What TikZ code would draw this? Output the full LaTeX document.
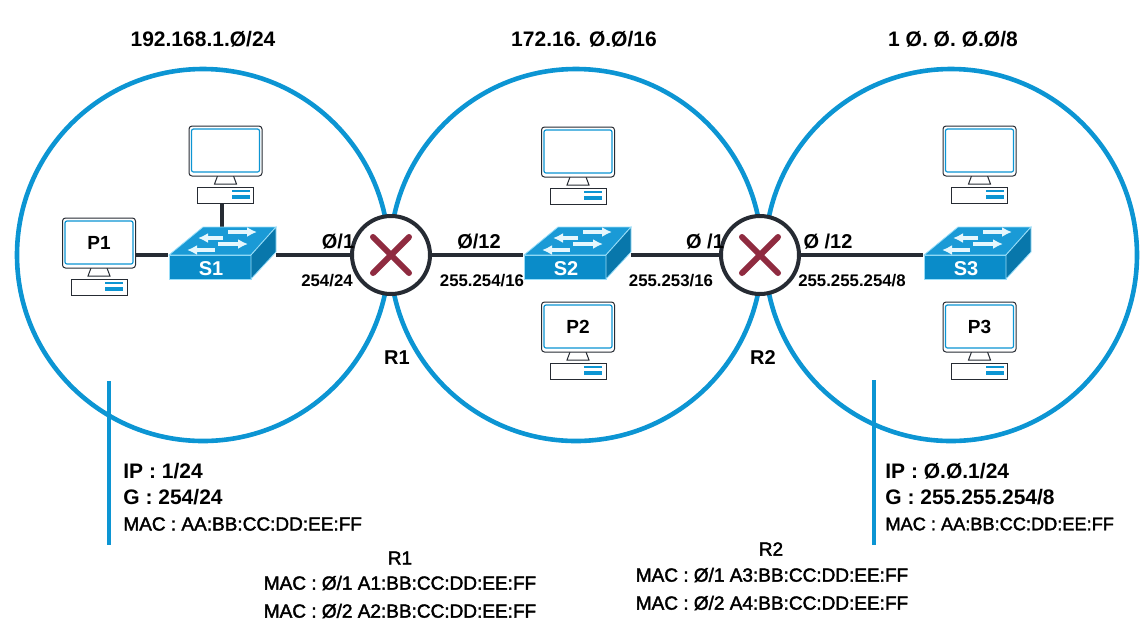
\documentclass[tikz,border=0pt]{standalone}
\usepackage{fontspec}
\setmainfont{Liberation Sans}
\newfontfamily\macfont[FakeBold=2]{Liberation Sans}
\usetikzlibrary{calc, shapes, backgrounds, arrows.meta}
\definecolor{lanblue}{HTML}{0C95D3}
\definecolor{switchblue}{HTML}{0A8CC9}
\definecolor{switchtop}{HTML}{1A9AD6}
\definecolor{routerred}{HTML}{8F2B40}
\definecolor{darkline}{HTML}{262B33}

\newcommand{\computer}[4]{
	\begin{scope}[shift={(#2,#3)}]
		\draw[pcline, fill=white] (-8,25) -- (-11,33) -- (11,33) -- (8,25);
		\node[monitor] (#1) at (0,0) {#4};
		\draw[lanblue, line width=0.6pt, rounded corners=1pt] (-34,-22) rectangle (34,21);
		\node[pcbox] (#1box) at (0,44) {};
		\fill[lanblue] (6,39) rectangle (24,41);
		\fill[lanblue] (6,43.5) rectangle (24,47.5);
	\end{scope}
}
\newcommand{\switchbox}[3]{
	\begin{scope}[shift={(#2,255)}]
		\fill[switchblue, draw=cyan!40, thin] (-53,0) -- (29,0) -- (29,24) -- (-53,24) -- cycle;
		\fill[switchtop, draw=cyan!40, thin] (-53,0) -- (-19,-28) -- (54,-28) -- (29,0) -- cycle;
		\fill[switchblue!85!black, draw=cyan!40, thin] (29,0) -- (54,-28) -- (54,-3) -- (29,24) -- cycle;
		\foreach \xa/\ya/\xb in {1/-17/-24, 6/-23/35, -4/-11/26, -7/-5/-35}
			\draw[white!90!cyan, line width=1.7pt, -{Latex[length=5pt,width=5pt]}] (\xa,\ya) -- (\xb,\ya);
		\node[switchbox] (#1) at (0,0) {};
		\node[switchtext] (#1text) at (-11,14) {#3};
	\end{scope}
}

\begin{document}
\begin{tikzpicture}[x=0.5pt, y=-0.5pt]
	\tikzstyle{lan}=[circle, draw=lanblue, line width=2.3pt, minimum size=186pt]
	\tikzstyle{router}=[circle, draw=darkline, fill=white, line width=2pt, minimum size=39pt]
	\tikzstyle{link}=[darkline, line width=1.8pt]
	\tikzstyle{cross}=[routerred, line width=3pt, line cap=round]
	\tikzstyle{pcline}=[darkline, line width=0.5pt]
	\tikzstyle{monitor}=[rectangle, draw=darkline, line width=0.5pt, fill=white, rounded corners=1.5pt,
	minimum width=36.5pt, minimum height=25pt, inner sep=0pt,
	font=\fontsize{9.5}{11}\selectfont\bfseries]
	\tikzstyle{pcbox}=[rectangle, draw=darkline, line width=0.5pt, fill=white, minimum width=28pt, minimum height=8pt, inner sep=0pt]
	\tikzstyle{switchbox}=[rectangle, minimum width=53.5pt, minimum height=24pt, inner sep=0pt]
	\tikzstyle{switchtext}=[white, inner sep=0pt, font=\fontsize{10}{12}\selectfont\bfseries]
	\tikzstyle{nettext}=[inner sep=0pt, font=\fontsize{10.5}{12}\selectfont\bfseries]
	\tikzstyle{porttext}=[inner sep=0pt, font=\fontsize{10}{12}\selectfont\bfseries]
	\tikzstyle{masktext}=[inner sep=0pt, font=\fontsize{8.4}{10}\selectfont\bfseries]
	\tikzstyle{hosttext}=[inner sep=0pt, anchor=west, font=\fontsize{10.5}{12}\selectfont\bfseries]
	\tikzstyle{mactext}=[inner sep=0pt, font=\fontsize{9.5}{12}\macfont]
	\tikzstyle{bar}=[lanblue, line width=1.8pt]

	\useasboundingbox (0,0) rectangle (1148,639);

	\node[lan] (lan1) at (203,255) {};
	\node[lan] (lan2) at (576,255) {};
	\node[lan] (lan3) at (951,255) {};

	\node[router] (r1) at (391,255) {};
	\node[router] (r2) at (760,255) {};
	\draw[cross] ($(r1)+(-18,-18)$) -- ($(r1)+(18,18)$);
	\draw[cross] ($(r1)+(-18,18)$) -- ($(r1)+(18,-18)$);
	\draw[cross] ($(r2)+(-18,-18)$) -- ($(r2)+(18,18)$);
	\draw[cross] ($(r2)+(-18,18)$) -- ($(r2)+(18,-18)$);

	\computer{p1}{99}{243}{P1}
	\computer{pc1}{225.5}{151}{}
	\computer{pc2}{578}{152}{}
	\computer{p2}{578}{327}{P2}
	\computer{pc3}{979.5}{151}{}
	\computer{p3}{979.5}{327}{P3}

	\switchbox{s1}{222}{S1}
	\switchbox{s2}{577}{S2}
	\switchbox{s3}{977}{S3}

	\begin{scope}[on background layer]
		\draw[link] (p1.east |- s1) -- (s1);
		\draw[link] (pc1box.south -| s1) -- (s1.north);
		\draw[link] (s1) -- (r1);
		\draw[link] (r1) -- (s2);
		\draw[link] (s2) -- (r2);
		\draw[link] (r2) -- (s3);
	\end{scope}

	\node[nettext] (net1) at (203,39) {192.168.1.Ø/24};
	\node[nettext] (net2) at (584,39) {172.16. Ø.Ø/16};
	\node[nettext] (net3) at (953,39) {1 Ø. Ø. Ø.Ø/8};

	\node[porttext] (port1) at (338,242) {Ø/1};
	\node[porttext] (port2) at (479,242) {Ø/12};
	\node[porttext] (port3) at (705,242) {Ø /1};
	\node[porttext] (port4) at (828,242) {Ø /12};
	\node[masktext] (mask1) at (327,281) {254/24};
	\node[masktext] (mask2) at (482,281) {255.254/16};
	\node[masktext] (mask3) at (671,281) {255.253/16};
	\node[masktext] (mask4) at (852,281) {255.255.254/8};

	\node[porttext] (r1name) at (397,358) {R1};
	\node[porttext] (r2name) at (763,358) {R2};

	\coordinate (bar1top) at (109,381);
	\coordinate (bar1end) at (109,545);
	\coordinate (bar3top) at (874,380);
	\coordinate (bar3end) at (874,545);
	\draw[bar] (bar1top) -- (bar1end);
	\draw[bar] (bar3top) -- (bar3end);

	\node[hosttext] (ip1) at (123,471) {IP : 1/24};
	\node[hosttext] (g1) at (123,497) {G : 254/24};
	\node[mactext, anchor=west] (mac1) at (123,524) {MAC : AA:BB:CC:DD:EE:FF};
	\node[hosttext] (ip3) at (885,471) {IP : Ø.Ø.1/24};
	\node[hosttext] (g3) at (885,497) {G : 255.255.254/8};
	\node[mactext, anchor=west, font=\fontsize{9.1}{12}\macfont] (mac3) at (885,524) {MAC : AA:BB:CC:DD:EE:FF};

	\node[mactext] (r1title) at (400,558) {R1};
	\node[mactext] (r1mac1) at (400,583) {MAC : Ø/1 A1:BB:CC:DD:EE:FF};
	\node[mactext] (r1mac2) at (400,611) {MAC : Ø/2 A2:BB:CC:DD:EE:FF};
	\node[mactext] (r2title) at (771,549) {R2};
	\node[mactext] (r2mac1) at (772,575) {MAC : Ø/1 A3:BB:CC:DD:EE:FF};
	\node[mactext] (r2mac2) at (772,603) {MAC : Ø/2 A4:BB:CC:DD:EE:FF};
\end{tikzpicture}
\end{document}
